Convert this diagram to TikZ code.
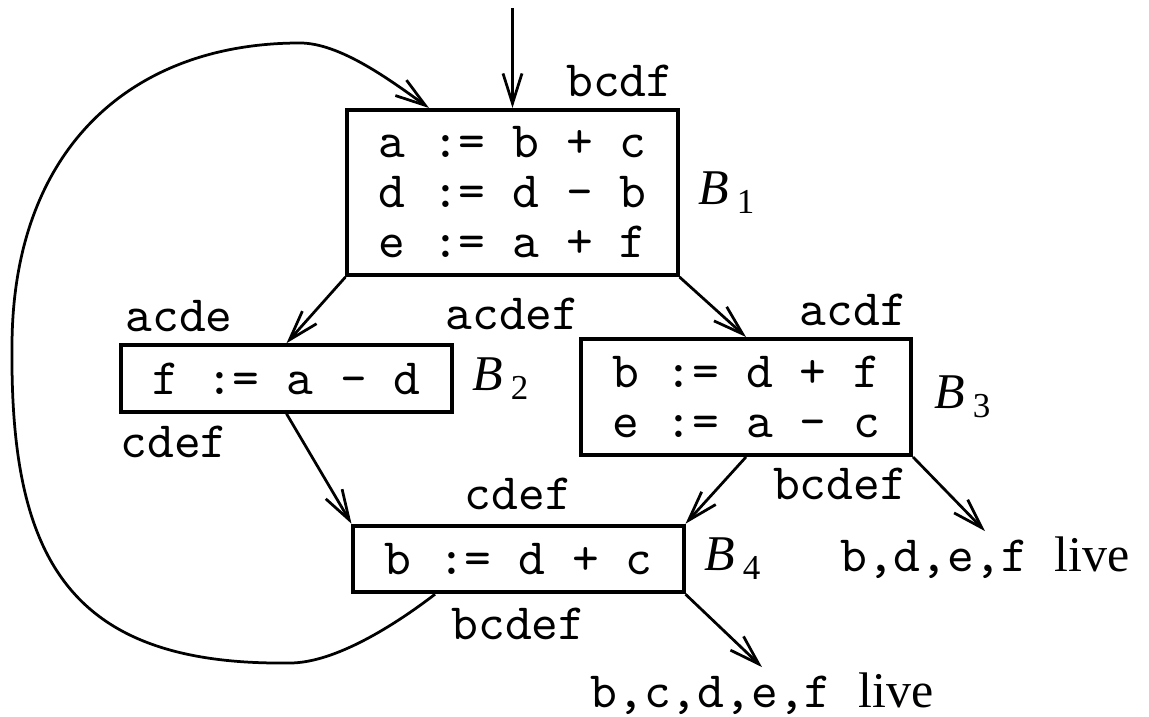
\documentclass[tikz,border=0pt]{standalone}
\usepackage{fontspec}
\setmainfont{Liberation Serif}
\usetikzlibrary{arrows.meta,calc}

\newcommand{\codefont}{\fontsize{10.2}{10}\selectfont\ttfamily}
\newcommand{\blkfont}{\fontsize{10}{11}\selectfont\rmfamily}
\newcommand{\blk}[1]{\textit{B}\,\raisebox{-1.8pt}{\fontsize{7}{7}\selectfont #1}}

\begin{document}
\begin{tikzpicture}[x=0.2pt,y=-0.2pt,
    block/.style={draw,rectangle,line width=0.8pt,minimum width=66pt,minimum height=#1,inner sep=0pt,align=center,font=\codefont},
    block/.default=13.3pt,
    flow/.style={-{Straight Barb[length=6pt,width=3.8pt]},line width=0.55pt},
    every label/.style={font=\codefont,inner xsep=1pt,inner ysep=2pt},
    live/.style={font=\blkfont,inner sep=1pt}]
    \useasboundingbox (0,0) rectangle (1149,717);

    \node (b1) [block=33pt,
        label={[anchor=south east]north east:bcdf},
        label={[label distance=2pt]below:acdef},
        label={[font=\blkfont,label distance=2.5pt]right:\blk{1}}
    ] at (512.5,192.5) {a := b + c\\d := d - b\\e := a + f};
    \node (b2) [block,
        label={[anchor=south west]north west:acde},
        label={[anchor=north west,label distance=1pt]south west:cdef},
        label={[font=\blkfont,label distance=2.5pt]right:\blk{2}}
    ] at (286.5,378.5) {f := a - d};
    \node (b3) [block=23.2pt,
        label={[anchor=south east]north east:acdf},
        label={[anchor=north east]south east:bcdef},
        label={[font=\blkfont,label distance=3pt]right:\blk{3}}
    ] at (746,397) {b := d + f\\e := a - c};
    \node (b4) [block,
        label={[label distance=0.6pt]above:cdef},
        label={[label distance=0.6pt]below:bcdef},
        label={[font=\blkfont,label distance=2.5pt]right:\blk{4}}
    ] at (518.5,559) {b := d + c};

    \node (live1) [live] at (985,558) {{\codefont b,d,e,f~}live};
    \node (live2) [live] at (762,694) {{\codefont b,c,d,e,f~}live};

    \coordinate (entry) at (512.5,8);

    \draw[flow] (entry) -- (b1.north);
    \draw[flow] (b1.south west) -- (b2.north);
    \draw[flow] (b1.south east) -- (b3.north);
    \draw[flow] (b2.south) -- (b4.north west);
    \draw[flow] (b3.south) -- (b4.north east);
    \draw[flow] (b3.south east) -- (live1.north);
    \draw[flow] (b4.south east) -- (live2.north);
    % back edge from B4 to B1
    \draw[flow] ($(b4.south west)!.25!(b4.south east)$)
        .. controls (395,625) and (335,663) .. (290,663)
        .. controls (70,666) and (10,560) .. (12,347)
        .. controls (12,150) and (130,43) .. (300,43)
        .. controls (340,43) and (390,80) .. ($(b1.north west)!.25!(b1.north east)$);
\end{tikzpicture}
\end{document}
